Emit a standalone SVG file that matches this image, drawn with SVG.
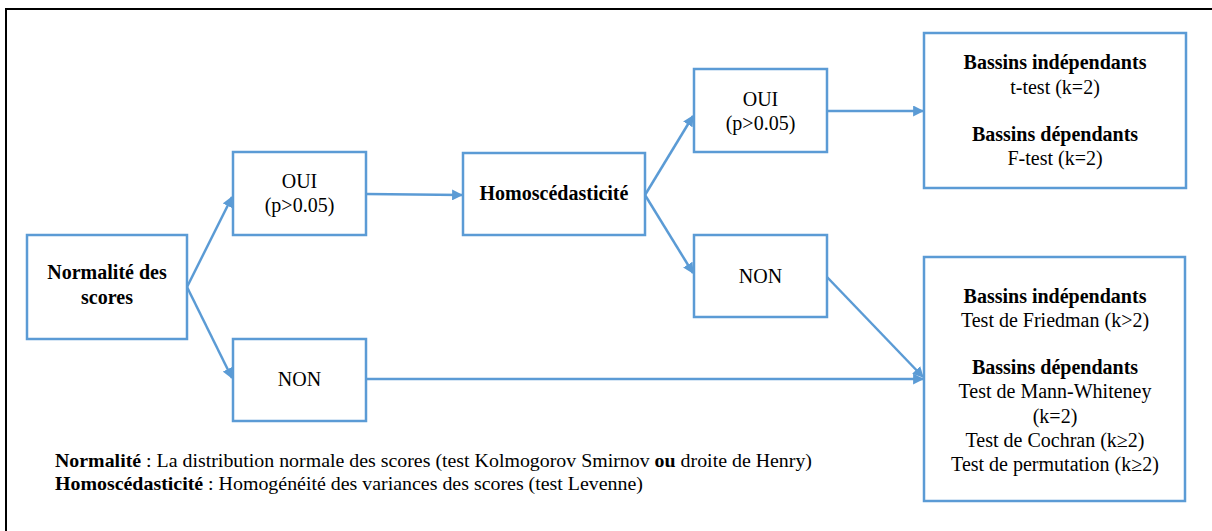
<svg xmlns="http://www.w3.org/2000/svg" width="1212" height="531" viewBox="0 0 1212 531">
<style>
.box{fill:#fff;stroke:#5B9BD5;stroke-width:2.5}
.t{font-family:'Liberation Serif','Times New Roman',serif;font-size:20px;fill:#000;text-anchor:middle}
.b{font-weight:bold}
.c{fill:none;stroke:#5B9BD5;stroke-width:2.5}
.f{font-family:'Liberation Serif','Times New Roman',serif;font-size:19px;fill:#000}
</style>
<defs>
<marker id="ah" viewBox="0 0 10 10" refX="9" refY="5" markerWidth="4.4" markerHeight="4.4" markerUnits="strokeWidth" orient="auto">
<path d="M0,0 L10,5 L0,10 z" fill="#5B9BD5"/>
</marker>
</defs>
<rect x="0" y="0" width="1212" height="531" fill="#fff"/>
<path d="M6,540 L6,9 L1220,9" fill="none" stroke="#000" stroke-width="2"/>

<g id="connectors">
<line class="c" x1="187" y1="287" x2="232" y2="197" marker-end="url(#ah)"/>
<line class="c" x1="187" y1="287" x2="232" y2="378" marker-end="url(#ah)"/>
<line class="c" x1="366" y1="194" x2="462" y2="195" marker-end="url(#ah)"/>
<line class="c" x1="645" y1="195" x2="693" y2="116" marker-end="url(#ah)"/>
<line class="c" x1="645" y1="195" x2="693" y2="273" marker-end="url(#ah)"/>
<line class="c" x1="827" y1="111" x2="923" y2="111" marker-end="url(#ah)"/>
<line class="c" x1="827" y1="277" x2="923" y2="377" marker-end="url(#ah)"/>
<line class="c" x1="366" y1="379" x2="923" y2="379" marker-end="url(#ah)"/>
</g>

<g id="normalite">
<rect class="box" x="27" y="235" width="160" height="104"/>
<text class="t b" x="107" y="279">Normalité des</text>
<text class="t b" x="107" y="304">scores</text>
</g>
<g id="oui1">
<rect class="box" x="233" y="152" width="133" height="83"/>
<text class="t" x="299.5" y="188">OUI</text>
<text class="t" x="299.5" y="212">(p&gt;0.05)</text>
</g>
<g id="non1">
<rect class="box" x="233" y="339" width="133" height="82"/>
<text class="t" x="299.5" y="386">NON</text>
</g>
<g id="homosc">
<rect class="box" x="463" y="153" width="182" height="82"/>
<text class="t b" x="554" y="200">Homoscédasticité</text>
</g>
<g id="oui2">
<rect class="box" x="694" y="69" width="133" height="83"/>
<text class="t" x="760.5" y="106">OUI</text>
<text class="t" x="760.5" y="130">(p&gt;0.05)</text>
</g>
<g id="non2">
<rect class="box" x="694" y="235" width="133" height="82"/>
<text class="t" x="760.5" y="283">NON</text>
</g>
<g id="result1">
<rect class="box" x="924" y="33" width="262" height="155"/>
<text class="t b" x="1055" y="69">Bassins indépendants</text>
<text class="t" x="1055" y="94">t-test (k=2)</text>
<text class="t b" x="1055" y="141">Bassins dépendants</text>
<text class="t" x="1055" y="165">F-test (k=2)</text>
</g>
<g id="result2">
<rect class="box" x="924" y="257" width="261" height="244"/>
<text class="t b" x="1055" y="303">Bassins indépendants</text>
<text class="t" x="1055" y="327">Test de Friedman (k&gt;2)</text>
<text class="t b" x="1055" y="374">Bassins dépendants</text>
<text class="t" x="1055" y="398">Test de Mann-Whiteney</text>
<text class="t" x="1055" y="423">(k=2)</text>
<text class="t" x="1055" y="447">Test de Cochran (k≥2)</text>
<text class="t" x="1055" y="471">Test de permutation (k≥2)</text>
</g>
<g id="legend">
<text class="f" x="55" y="467" textLength="757" lengthAdjust="spacingAndGlyphs"><tspan font-weight="bold">Normalité</tspan> : La distribution normale des scores (test Kolmogorov Smirnov <tspan font-weight="bold">ou</tspan> droite de Henry)</text>
<text class="f" x="55" y="490" textLength="588" lengthAdjust="spacingAndGlyphs"><tspan font-weight="bold">Homoscédasticité</tspan> : Homogénéité des variances des scores (test Levenne)</text>
</g>
</svg>
